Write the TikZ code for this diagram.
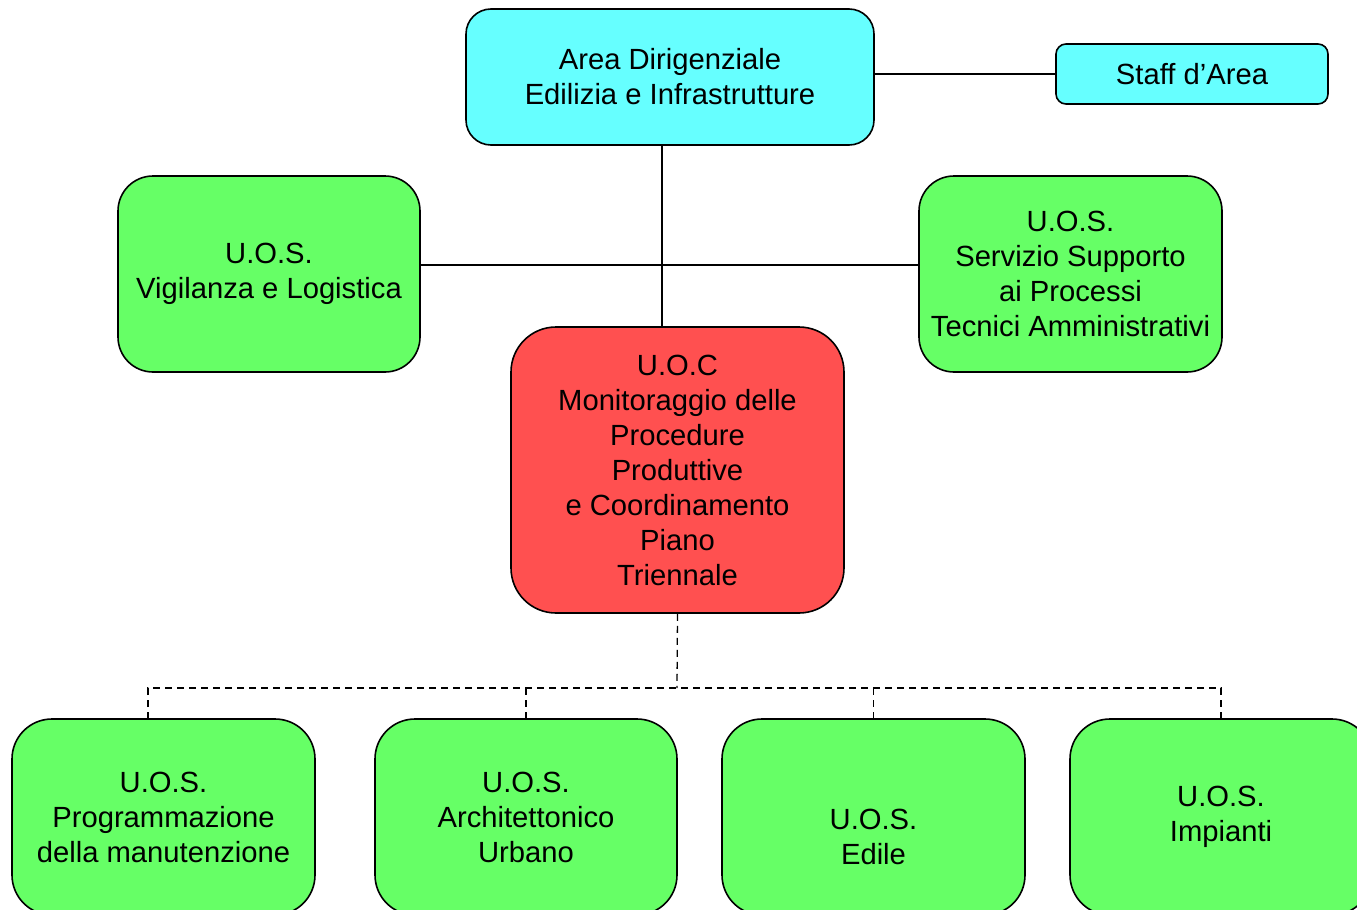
\documentclass[tikz,border=0pt]{standalone}
\usepackage{fontspec}
\setmainfont{Liberation Sans}
\definecolor{cyanbox}{RGB}{102,255,255}
\definecolor{greenbox}{RGB}{102,255,102}
\definecolor{redbox}{RGB}{255,80,80}
\tikzset{
  box/.style={draw=black, line width=1.6pt, inner sep=0pt, align=center,
    font=\fontsize{29.2}{35}\selectfont},
  conn/.style={draw=black, line width=1.3pt},
  dconn/.style={draw=black, line width=1.3pt, dash pattern=on 7pt off 5pt},
}
\begin{document}
\begin{tikzpicture}[x=1pt,y=-1pt]
\useasboundingbox (0,0) rectangle (1357,910);
\clip (0,0) rectangle (1357,910);
\fill[white] (0,0) rectangle (1357,910);
% top
\node[box, fill=cyanbox, rounded corners=25pt, minimum width=408pt, minimum height=136pt] (top) at (670,77) {Area Dirigenziale\\Edilizia e Infrastrutture};
\node[box, fill=cyanbox, rounded corners=10pt, minimum width=272pt, minimum height=60pt] (staff) at (1192,74) {Staff d’Area};
% middle
\node[box, fill=greenbox, rounded corners=35pt, minimum width=302pt, minimum height=196pt] (vig) at (269,274) {U.O.S.\\Vigilanza e Logistica};
\node[box, fill=greenbox, rounded corners=35pt, minimum width=303pt, minimum height=196pt] (serv) at (1070.5,274) {U.O.S.\\Servizio Supporto\\ai Processi\\Tecnici Amministrativi};
\node[box, fill=redbox, rounded corners=45pt, minimum width=333pt, minimum height=286pt] (uoc) at (677.5,470) {U.O.C\\Monitoraggio delle\\Procedure\\Produttive\\e Coordinamento\\Piano\\Triennale};
% bottom
\node[box, fill=greenbox, rounded corners=40pt, minimum width=303pt, minimum height=196pt] (prog) at (163.5,817) {U.O.S.\\Programmazione\\della manutenzione};
\node[box, fill=greenbox, rounded corners=40pt, minimum width=302pt, minimum height=196pt] (arch) at (526,817) {U.O.S.\\Architettonico\\Urbano};
\node[box, fill=greenbox, rounded corners=40pt, minimum width=303pt, minimum height=196pt] (edile) at (873.5,817) {\strut\\U.O.S.\\Edile};
\node[box, fill=greenbox, rounded corners=40pt, minimum width=302pt, minimum height=196pt] (imp) at (1221,817) {U.O.S.\\Impianti};
% connectors
\coordinate (topb) at (662,145);
\coordinate (uoct) at (662,327);
\coordinate (vigr) at (420,265);
\coordinate (servl) at (919,265);
\draw[conn] (top.east |- staff.west) -- (staff.west);
\draw[conn] (topb) -- (uoct);
\draw[conn] (vigr) -- (servl);
\coordinate (bus) at (677,688);
\coordinate (progt) at (148,719);
\draw[dconn] (uoc.south) -- (bus);
\draw[dconn] (progt) -- (148,688) -- (imp.north |- bus) -- (imp.north);
\draw[dconn] (arch.north |- bus) -- (arch.north);
\draw[dconn] (edile.north |- bus) -- (edile.north);
\end{tikzpicture}
\end{document}
